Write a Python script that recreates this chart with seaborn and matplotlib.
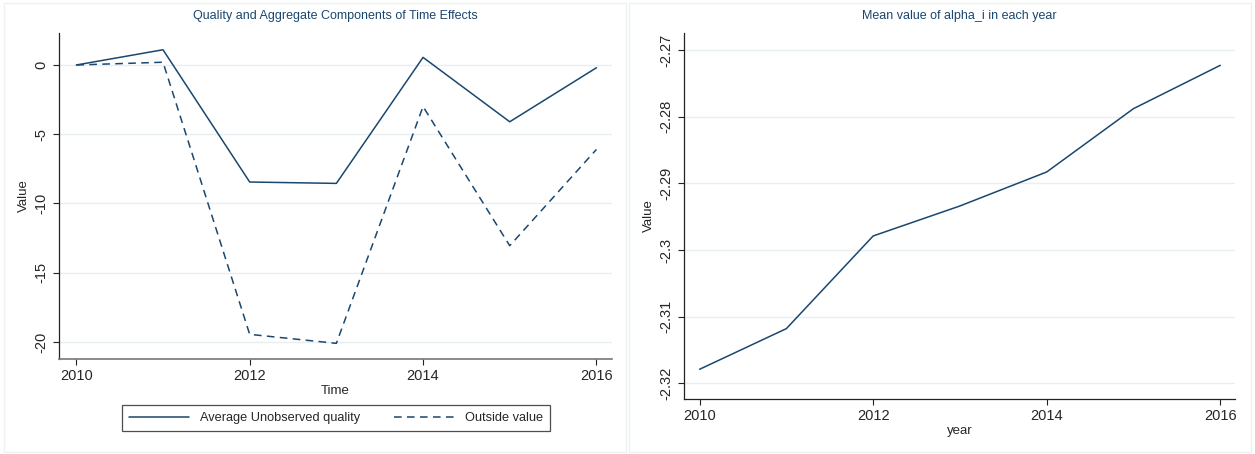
import matplotlib
matplotlib.use("Agg")
import matplotlib.pyplot as plt
from matplotlib.patches import Rectangle
from matplotlib.lines import Line2D
import seaborn as sns
import pandas as pd

# Yearly time effects and mean alpha_i
years = [2010, 2011, 2012, 2013, 2014, 2015, 2016]
unobserved_quality = [0.0, 1.1, -8.45, -8.55, 0.55, -4.1, -0.2]
outside_value = [0.0, 0.2, -19.45, -20.1, -3.0, -13.05, -6.1]
alpha_mean = [-2.3179, -2.3118, -2.2979, -2.2934, -2.2883, -2.2788, -2.2723]

left_yticks = [0, -5, -10, -15, -20]
right_yticks = [-2.27, -2.28, -2.29, -2.30, -2.31, -2.32]
right_yticklabels = ["-2.27", "-2.28", "-2.29", "-2.3", "-2.31", "-2.32"]
xticks = [2010, 2012, 2014, 2016]

NAVY = "#1a476f"
GRID = "#e8eff1"

sns.set_theme(style="white")
plt.rcParams["font.family"] = ["Liberation Sans", "DejaVu Sans"]

fig = plt.figure(figsize=(12.55, 4.54), dpi=100)

# faint panel frames
for x0 in (4 / 1255, 629 / 1255):
    fig.patches.append(Rectangle((x0, 2 / 454), 622 / 1255, 449 / 454,
                                 transform=fig.transFigure, fill=False,
                                 edgecolor="#eef1f1", linewidth=1.0))

ax1 = fig.add_axes([59 / 1255, 1 - 359 / 454, 553 / 1255, 326 / 454])
ax2 = fig.add_axes([684 / 1255, 1 - 399 / 454, 551 / 1255, 366 / 454])

left_df = pd.DataFrame({
    "Time": years * 2,
    "Value": unobserved_quality + outside_value,
    "series": ["Average Unobserved quality"] * len(years) + ["Outside value"] * len(years),
})

sns.lineplot(data=left_df, x="Time", y="Value", style="series",
             dashes={"Average Unobserved quality": "", "Outside value": (5, 3.5)},
             color=NAVY, linewidth=1.1, ax=ax1, legend=False)

right_df = pd.DataFrame({"year": years, "Value": alpha_mean})
sns.lineplot(data=right_df, x="year", y="Value", color=NAVY, linewidth=1.1, ax=ax2)


def style_axes(ax, yticks, yticklabels, ylim, xlabel, title):
    ax.set_xlim(2009.80, 2016.18)
    ax.set_ylim(*ylim)
    ax.set_xticks(xticks)
    ax.set_xticklabels([str(t) for t in xticks], fontsize=10.5)
    ax.set_yticks(yticks)
    ax.set_yticklabels(yticklabels, fontsize=10.5, rotation=90, va="center")
    ax.set_xlabel(xlabel, fontsize=9.5, labelpad=1)
    ax.set_ylabel("Value", fontsize=9.5, labelpad=3)
    ax.set_title(title, fontsize=9, color=NAVY, pad=10)
    for t in yticks:
        ax.axhline(t, color=GRID, linewidth=1.0, zorder=0)
    for side in ("top", "right"):
        ax.spines[side].set_visible(False)
    for side in ("left", "bottom"):
        ax.spines[side].set_color("#222222")
        ax.spines[side].set_linewidth(0.9)
    ax.tick_params(axis="both", direction="out", length=4.5, width=0.8,
                   color="#222222", pad=3, bottom=True, left=True)
    ax.set_facecolor("white")


style_axes(ax1, left_yticks, [str(t) for t in left_yticks], (-21.23, 2.31),
           "Time", "Quality and Aggregate Components of Time Effects")
ax1.spines["bottom"].set_color("#777777")
ax1.spines["bottom"].set_linewidth(1.2)

style_axes(ax2, right_yticks, right_yticklabels, (-2.32236, -2.26745),
           "year", "Mean value of alpha_i in each year")
ax2.set_xlim(2009.82, 2016.17)

# legend under the left panel
handles = [
    Line2D([], [], color=NAVY, linewidth=1.1),
    Line2D([], [], color=NAVY, linewidth=1.1, dashes=(5, 3.5)),
]
leg = fig.legend(handles, ["Average Unobserved quality", "Outside value"],
                 loc="center", bbox_to_anchor=(336 / 1255, 1 - 418 / 454),
                 ncol=2, fontsize=9.2, frameon=True, fancybox=False,
                 handlelength=4.7, handletextpad=0.9, columnspacing=2.6,
                 borderpad=0.55, borderaxespad=0)
leg.get_frame().set_edgecolor("#222222")
leg.get_frame().set_linewidth(0.9)

fig.savefig("out.png", dpi=100, facecolor="white")
